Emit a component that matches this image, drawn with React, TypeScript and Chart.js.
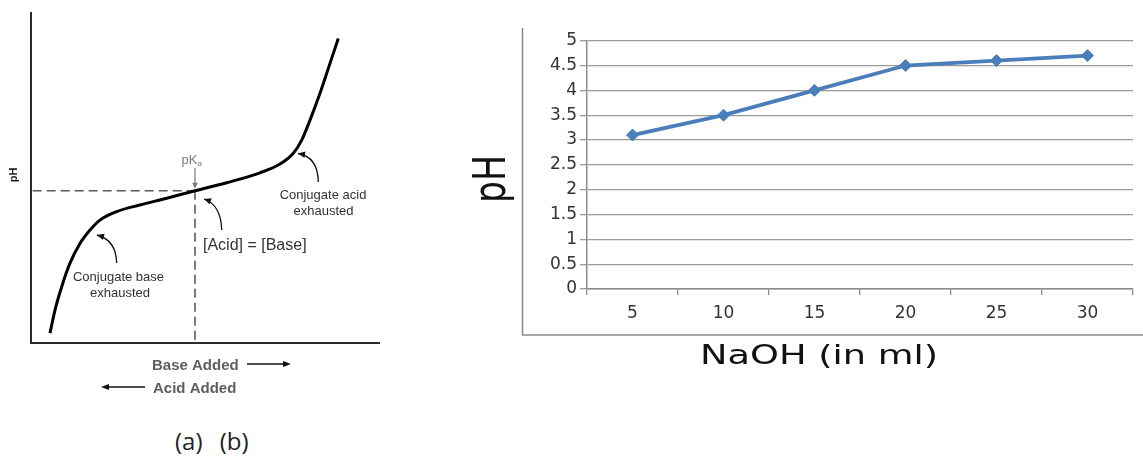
import React, { useEffect, useRef } from 'react';
import { Chart, registerables } from 'chart.js';

Chart.register(...registerables);

// ---------- (a) titration curve ----------
const curveBaseAdded = [5.54, 6.98, 8.9, 11.28, 14.15, 17.03, 19.9, 24.69, 31.3, 39.05, 47.17, 56.27, 65.83, 71.58, 75.39, 77.81, 80.19, 83.06, 85.93, 88.31];
const curvePH = [0.4, 1.38, 2.37, 3.37, 4.21, 4.78, 5.2, 5.56, 5.84, 6.13, 6.45, 6.79, 7.21, 7.58, 8.04, 8.6, 9.45, 10.59, 11.86, 12.92];
const pKaBaseAdded = 47.17;
const pKaValue = 6.45;

// ---------- (b) NaOH titration ----------
const naohCategories = ['5', '10', '15', '20', '25', '30'];
const phValues = [3.1, 3.5, 4.0, 4.5, 4.6, 4.7];
const yTickLabels = ['0', '0.5', '1', '1.5', '2', '2.5', '3', '3.5', '4', '4.5', '5'];

const SANS = '"Liberation Sans", Arial, sans-serif';
const WIDE = '"DejaVu Sans", Verdana, sans-serif';

function arrowHead(ctx: CanvasRenderingContext2D, tx: number, ty: number, fx: number, fy: number, len: number, hw: number) {
  const a = Math.atan2(ty - fy, tx - fx);
  const bx = tx - len * Math.cos(a);
  const by = ty - len * Math.sin(a);
  ctx.beginPath();
  ctx.moveTo(tx, ty);
  ctx.lineTo(bx + hw * Math.sin(a), by - hw * Math.cos(a));
  ctx.lineTo(bx - hw * Math.sin(a), by + hw * Math.cos(a));
  ctx.closePath();
  ctx.fill();
}

function curvedArrow(ctx: CanvasRenderingContext2D, sx: number, sy: number, cx: number, cy: number, ex: number, ey: number) {
  ctx.beginPath();
  ctx.moveTo(sx, sy);
  ctx.quadraticCurveTo(cx, cy, ex, ey);
  ctx.stroke();
  arrowHead(ctx, ex, ey, cx, cy, 7, 3.2);
}

const leftDecor = {
  id: 'leftDecor',
  beforeDatasetsDraw(chart: any) {
    const { ctx, chartArea, scales } = chart;
    const px = scales.x.getPixelForValue(pKaBaseAdded);
    const py = scales.y.getPixelForValue(pKaValue);
    ctx.save();
    ctx.strokeStyle = '#5a5a5a';
    ctx.lineWidth = 1.6;
    ctx.setLineDash([9, 5]);
    ctx.beginPath();
    ctx.moveTo(chartArea.left + 2, py);
    ctx.lineTo(px, py);
    ctx.stroke();
    ctx.beginPath();
    ctx.moveTo(px, py);
    ctx.lineTo(px, chartArea.bottom);
    ctx.stroke();
    ctx.restore();
  },
  afterDraw(chart: any) {
    const { ctx, scales } = chart;
    const px = scales.x.getPixelForValue(pKaBaseAdded);
    const py = scales.y.getPixelForValue(pKaValue);
    ctx.save();
    // pKa label and arrow
    ctx.strokeStyle = '#7a7a7a';
    ctx.fillStyle = '#7a7a7a';
    ctx.lineWidth = 1.2;
    ctx.beginPath();
    ctx.moveTo(px, py - 23);
    ctx.lineTo(px, py - 6);
    ctx.stroke();
    arrowHead(ctx, px, py - 2, px, py - 20, 6, 2.8);
    ctx.font = `13px ${SANS}`;
    ctx.textAlign = 'left';
    ctx.textBaseline = 'alphabetic';
    ctx.fillText('pK', px - 13.5, py - 26.5);
    ctx.font = `8px ${SANS}`;
    ctx.fillText('a', px + 2.5, py - 24.5);

    // annotation texts
    ctx.fillStyle = '#333';
    ctx.font = `13px ${SANS}`;
    ctx.textAlign = 'center';
    ctx.fillText('Conjugate base', 118.5, 281);
    ctx.fillText('exhausted', 120, 296.5);
    ctx.fillText('Conjugate acid', 323, 199);
    ctx.fillText('exhausted', 323.5, 215);
    ctx.font = `16px ${SANS}`;
    ctx.textAlign = 'left';
    ctx.fillText('[Acid] = [Base]', 203, 250);

    // curved arrows
    ctx.strokeStyle = '#111';
    ctx.fillStyle = '#111';
    ctx.lineWidth = 1.3;
    curvedArrow(ctx, 116.7, 263, 116, 240, 97, 235);
    curvedArrow(ctx, 221.7, 230, 221, 205, 204, 199);
    curvedArrow(ctx, 318.3, 182, 318, 157, 298, 153.5);

    // bottom labels
    ctx.fillStyle = '#5e5e5e';
    ctx.font = `bold 15px ${SANS}`;
    ctx.textAlign = 'left';
    ctx.fillText('Base Added', 152, 370);
    ctx.fillText('Acid Added', 153, 392.5);
    ctx.strokeStyle = '#111';
    ctx.fillStyle = '#111';
    ctx.lineWidth = 1.3;
    ctx.beginPath();
    ctx.moveTo(247, 364);
    ctx.lineTo(285, 364);
    ctx.stroke();
    arrowHead(ctx, 291, 364, 247, 364, 8, 3);
    ctx.beginPath();
    ctx.moveTo(145, 387);
    ctx.lineTo(107, 387);
    ctx.stroke();
    arrowHead(ctx, 101, 387, 145, 387, 8, 3);

    // y-axis title
    ctx.fillStyle = '#222';
    ctx.font = `bold 11px ${SANS}`;
    ctx.translate(17, 175);
    ctx.rotate(-Math.PI / 2);
    ctx.textAlign = 'center';
    ctx.fillText('pH', 0, 0);
    ctx.restore();
  },
};

const rightDecor = {
  id: 'rightDecor',
  afterDraw(chart: any) {
    const { ctx } = chart;
    ctx.save();
    // outer frame (left & bottom)
    ctx.strokeStyle = '#8a8a8a';
    ctx.lineWidth = 1.5;
    ctx.beginPath();
    ctx.moveTo(82.5, 28);
    ctx.lineTo(82.5, 335);
    ctx.lineTo(703, 335);
    ctx.stroke();

    ctx.fillStyle = '#111';
    // x title
    ctx.font = `27px ${WIDE}`;
    ctx.textAlign = 'center';
    ctx.textBaseline = 'alphabetic';
    const t = 'NaOH (in ml)';
    const w = ctx.measureText(t).width;
    ctx.save();
    ctx.translate(379, 364);
    ctx.scale(238 / w, 1);
    ctx.fillText(t, 0, 0);
    ctx.restore();

    // y title
    ctx.font = `44px ${WIDE}`;
    const w2 = ctx.measureText('pH').width;
    ctx.save();
    ctx.translate(65, 179);
    ctx.rotate(-Math.PI / 2);
    ctx.scale(48 / w2, 1);
    ctx.fillText('pH', 0, 0);
    ctx.restore();
    ctx.restore();
  },
};

export default function App() {
  const leftRef = useRef<HTMLCanvasElement>(null);
  const rightRef = useRef<HTMLCanvasElement>(null);

  useEffect(() => {
    const left = new Chart(leftRef.current!, {
      type: 'line',
      data: {
        datasets: [
          {
            data: curveBaseAdded.map((x, i) => ({ x, y: curvePH[i] })),
            borderColor: '#000',
            borderWidth: 3,
            pointRadius: 0,
            cubicInterpolationMode: 'monotone',
            fill: false,
          },
        ],
      },
      options: {
        responsive: false,
        animation: false,
        layout: { padding: { left: 30.7, top: 13, right: 440 - 379, bottom: 420 - 342.5 } },
        plugins: { legend: { display: false }, tooltip: { enabled: false } },
        scales: {
          x: {
            type: 'linear',
            min: 0,
            max: 100,
            ticks: { display: false },
            grid: { display: false, drawTicks: false },
            border: { display: true, color: '#2a2a2a', width: 2 },
            afterFit: (s: any) => { s.height = 0; },
          },
          y: {
            type: 'linear',
            min: 0,
            max: 14,
            ticks: { display: false },
            grid: { display: false, drawTicks: false },
            border: { display: true, color: '#2a2a2a', width: 2 },
            afterFit: (s: any) => { s.width = 0; },
          },
        },
      } as any,
      plugins: [leftDecor],
    });

    const right = new Chart(rightRef.current!, {
      type: 'line',
      data: {
        labels: naohCategories,
        datasets: [
          {
            data: phValues,
            borderColor: '#4A7EBB',
            backgroundColor: '#4A7EBB',
            borderWidth: 3.8,
            pointStyle: 'rectRot',
            pointRadius: 6,
            pointBorderWidth: 1,
            pointBackgroundColor: '#4A7EBB',
            pointBorderColor: '#4A7EBB',
            tension: 0,
          },
        ],
      },
      options: {
        responsive: false,
        animation: false,
        layout: { padding: { left: 0, top: 40.7, right: 10, bottom: 0 } },
        plugins: { legend: { display: false }, tooltip: { enabled: false } },
        scales: {
          x: {
            offset: true,
            grid: { offset: true, drawOnChartArea: false, drawTicks: true, tickLength: 6, color: '#8c8c8c', lineWidth: 1.3 },
            border: { display: true, color: '#8c8c8c', width: 1.5 },
            ticks: { color: '#333', font: { family: WIDE, size: 17 }, padding: 8, maxRotation: 0, autoSkip: false },
            afterFit: (s: any) => { s.height = 131; },
          },
          y: {
            min: 0,
            max: 5,
            ticks: {
              stepSize: 0.5,
              color: '#333',
              font: { family: WIDE, size: 17 },
              padding: 3,
              callback: (_v: any, i: number) => yTickLabels[i],
            },
            grid: { color: '#9a9a9a', lineWidth: 1.3, tickLength: 7 },
            border: { display: true, color: '#8c8c8c', width: 1.5 },
            afterFit: (s: any) => { s.width = 147; },
          },
        },
      } as any,
      plugins: [rightDecor],
    });

    return () => {
      left.destroy();
      right.destroy();
    };
  }, []);

  return (
    <div style={{ position: 'absolute', left: 0, top: 0, width: 1143, height: 475, background: '#fff', overflow: 'hidden' }}>
      <canvas ref={leftRef} width={440} height={420} style={{ position: 'absolute', left: 0, top: 0 }} />
      <canvas ref={rightRef} width={703} height={420} style={{ position: 'absolute', left: 440, top: 0 }} />
      <div
        style={{
          position: 'absolute',
          left: 175,
          top: 427,
          font: '24px "Open Sans", "Noto Sans", sans-serif',
          lineHeight: '28px',
          color: '#222',
          whiteSpace: 'pre',
          wordSpacing: '11px',
        }}
      >
        (a) (b)
      </div>
    </div>
  );
}
